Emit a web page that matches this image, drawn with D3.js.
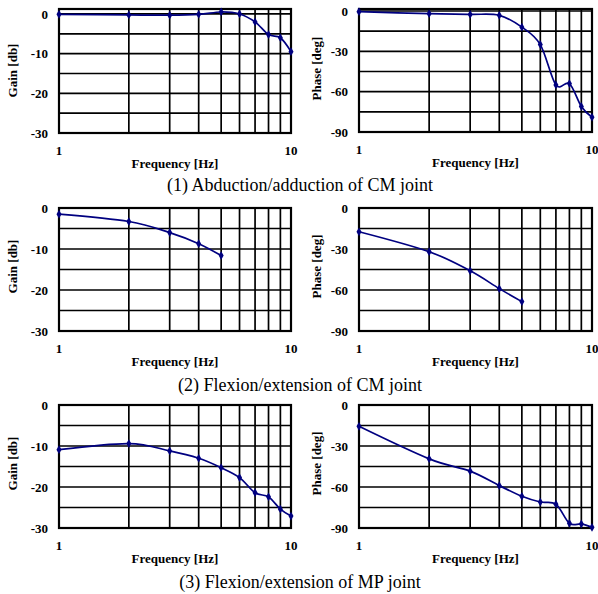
<!DOCTYPE html>
<meta charset="utf-8">
<head>
<style>
  body { margin: 0; background: #fff; }
  svg text { font-family: "Liberation Serif", "Times New Roman", "DejaVu Serif", serif; }
  .tick { font-weight: bold; font-size: 13px; }
  .atitle { font-weight: bold; font-size: 13px; }
  .caption { font-size: 18px; }
</style>
</head>
<body>
<script src="https://d3js.org/d3.v7.min.js"></script>
<script>

// frequencies (Hz)
var freq10 = [1, 2, 3, 4, 5, 6, 7, 8, 9, 10];
var freq5 = [1, 2, 3, 4, 5];

// (1) abduction/adduction of CM joint
var gain1 = [-0.1, -0.25, -0.3, -0.1, 0.5, 0, -2, -5.2, -6, -9.5];
var phase1 = [-0.5, -2, -2.5, -3.2, -12, -25, -55, -54, -71, -79];
// (2) flexion/extension of CM joint
var gain2 = [-1.5, -3.3, -6, -8.7, -11.6];
var phase2 = [-17.4, -32, -46, -59, -68.5];
// (3) flexion/extension of MP joint
var gain3 = [-10.9, -9.4, -11.2, -13, -15.3, -17.7, -21.4, -22.4, -25.4, -27.1];
var phase3 = [-15.6, -39.4, -48.4, -59, -66.8, -71, -72.6, -86.6, -87, -89.5];

var gainTicks = [0, -10, -20, -30];
var phaseTicks = [0, -30, -60, -90];
var captions = ["(1) Abduction/adduction of CM joint",
                "(2) Flexion/extension of CM joint",
                "(3) Flexion/extension of MP joint"];

var W = 598, H = 594;
var svg = d3.select("body").append("svg")
    .attr("width", W).attr("height", H);

function panel(xr, yr, ymin, ymax, yStep, ticks, ylab, labOff, fx, fy) {
  var x = d3.scaleLog().domain([1, 10]).range(xr);
  var y = d3.scaleLinear().domain([ymin, ymax]).range(yr);
  var g = svg.append("g");

  // horizontal grid
  g.selectAll("hg").data(d3.range(ymin + yStep, 0.001, yStep))
    .enter().append("line")
      .attr("x1", xr[0]).attr("x2", xr[1])
      .attr("y1", function(d) { return y(d); })
      .attr("y2", function(d) { return y(d); })
      .style("stroke", "#000").style("stroke-width", 1.7);
  // vertical grid
  g.selectAll("vg").data(d3.range(2, 10))
    .enter().append("line")
      .attr("x1", function(d) { return x(d); })
      .attr("x2", function(d) { return x(d); })
      .attr("y1", yr[0]).attr("y2", yr[1])
      .style("stroke", "#000").style("stroke-width", 1.7);
  // frame
  g.append("rect")
    .attr("x", xr[0]).attr("y", yr[1])
    .attr("width", xr[1] - xr[0]).attr("height", yr[0] - yr[1])
    .style("fill", "none").style("stroke", "#000").style("stroke-width", 2.2);

  // y tick labels
  g.selectAll("yt").data(ticks)
    .enter().append("text")
      .attr("class", "tick")
      .attr("x", xr[0] - 11)
      .attr("y", function(d) { return y(d); })
      .attr("dy", "0.35em")
      .attr("text-anchor", "end")
      .text(function(d) { return d; });
  // x tick labels
  g.selectAll("xt").data([1, 10])
    .enter().append("text")
      .attr("class", "tick")
      .attr("x", function(d) { return x(d); })
      .attr("y", yr[0] + 22)
      .attr("text-anchor", "middle")
      .text(function(d) { return d; });

  g.append("text").attr("class", "atitle")
    .attr("x", (xr[0] + xr[1]) / 2).attr("y", yr[0] + 35)
    .attr("text-anchor", "middle")
    .text("Frequency [Hz]");
  g.append("text").attr("class", "atitle")
    .attr("transform", "translate(" + (xr[0] - labOff) + "," + (y(ymin / 2) - 3) + ") rotate(-90)")
    .attr("text-anchor", "middle")
    .text(ylab);

  var line = d3.line()
    .x(function(d, i) { return x(fx[i]); })
    .y(function(d) { return y(d); })
    .curve(d3.curveCatmullRom.alpha(0));
  g.append("path").datum(fy)
    .attr("d", line)
    .style("fill", "none").style("stroke", "#000080").style("stroke-width", 1.7);
  g.selectAll("pt").data(fy)
    .enter().append("path")
      .attr("transform", function(d, i) { return "translate(" + x(fx[i]) + "," + y(d) + ")"; })
      .attr("d", d3.symbol().type(d3.symbolDiamond).size(22))
      .style("fill", "#000080");
}

var L = [59, 291], R = [359, 592];

panel(L, [133, 9], -30, 1.25, 5, gainTicks, "Gain [db]", 42, freq10, gain1);
panel(R, [132, 9], -90, 1.5, 15, phaseTicks, "Phase [deg]", 38, freq10, phase1);
panel(L, [331, 208], -30, 0, 5, gainTicks, "Gain [db]", 42, freq5, gain2);
panel(R, [331, 208], -90, 0, 15, phaseTicks, "Phase [deg]", 38, freq5, phase2);
panel(L, [528, 405], -30, 0, 5, gainTicks, "Gain [db]", 42, freq10, gain3);
panel(R, [528, 405], -90, 0, 15, phaseTicks, "Phase [deg]", 38, freq10, phase3);

svg.selectAll("cap").data(captions)
  .enter().append("text")
    .attr("class", "caption")
    .attr("x", 300)
    .attr("y", function(d, i) { return [191, 391, 588][i]; })
    .attr("text-anchor", "middle")
    .text(function(d) { return d; });
</script>
</body>
